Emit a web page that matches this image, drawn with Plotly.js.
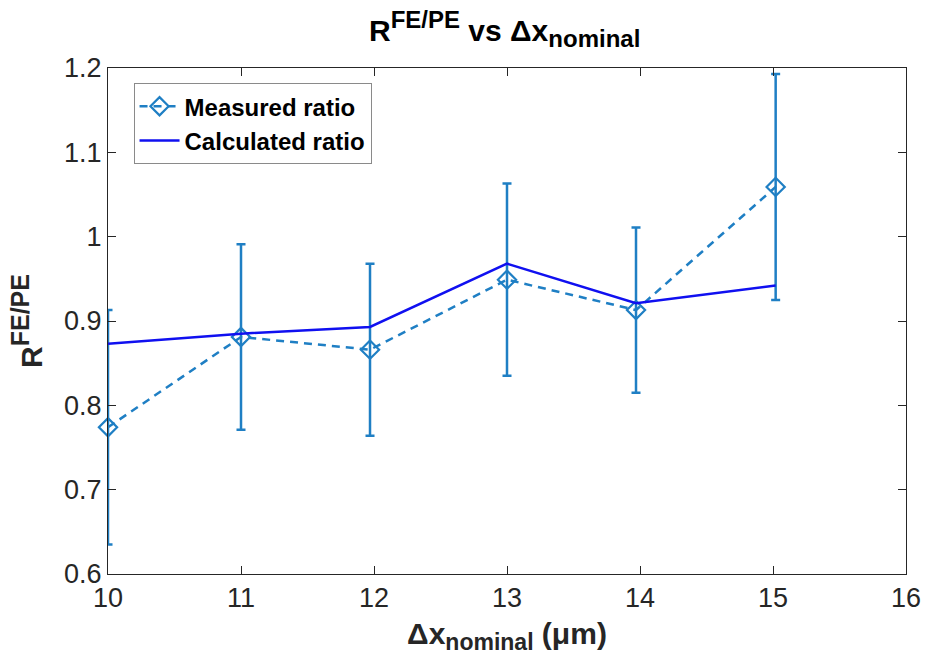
<!DOCTYPE html>
<html>
<head>
<meta charset="utf-8">
<script src="https://cdn.plot.ly/plotly-3.0.1.min.js"></script>
<style>
  html, body { margin: 0; padding: 0; background: #fff; }
  #chart { width: 926px; height: 669px; }
</style>
</head>
<body>
<div id="chart"></div>
<script>
// Nominal spacing (µm) for each sample
const xMeasured = [10, 11, 11.97, 13, 13.97, 15.02];
// Measured FE/PE ratio and its uncertainty
const measuredRatio = [0.774, 0.881, 0.866, 0.949, 0.913, 1.059];
const measuredErr = [0.139, 0.110, 0.102, 0.114, 0.098, 0.134];
// Calculated FE/PE ratio
const calculatedRatio = [0.873, 0.885, 0.893, 0.968, 0.921, 0.942];

const xTicks = [10, 11, 12, 13, 14, 15, 16];
const yTicks = [0.6, 0.7, 0.8, 0.9, 1, 1.1, 1.2];
const yTickText = ['0.6', '0.7', '0.8', '0.9', '1', '1.1', '1.2'];

const FONT = '"Liberation Sans", Arial, Helvetica, sans-serif';
const measuredColor = '#1f7fc4';
const calcColor = '#1010f0';

const traces = [
  {
    x: xMeasured,
    y: measuredRatio,
    name: 'Measured ratio',
    type: 'scatter',
    mode: 'lines+markers',
    cliponaxis: false,
    line: { color: measuredColor, width: 2.5, dash: '8px,6px' },
    marker: { symbol: 'diamond-open', size: 14, color: measuredColor, line: { width: 2.2, color: measuredColor } },
    error_y: { type: 'data', array: measuredErr, visible: true, color: measuredColor, thickness: 2.5, width: 4.5 }
  },
  {
    x: xMeasured,
    y: calculatedRatio,
    name: 'Calculated ratio',
    type: 'scatter',
    mode: 'lines',
    cliponaxis: false,
    line: { color: calcColor, width: 2.5 }
  }
];

const axisCommon = {
  showgrid: false,
  zeroline: false,
  showline: true,
  linecolor: '#262626',
  linewidth: 1,
  mirror: 'ticks',
  ticks: 'inside',
  ticklen: 8,
  tickwidth: 1,
  tickcolor: '#262626',
  tickfont: { family: FONT, size: 27, color: '#262626' }
};

const layout = {
  width: 926,
  height: 669,
  margin: { l: 108, r: 20, t: 68, b: 95 },
  paper_bgcolor: '#ffffff',
  plot_bgcolor: '#ffffff',
  font: { family: FONT, color: '#000' },
  title: {
    text: '<b>R<sup><span style="font-size:24px">FE/PE</span></sup> vs Δx<sub><span style="font-size:24px">nominal</span></sub></b>',
    font: { family: FONT, size: 30, color: '#000' },
    x: 0.545,
    xanchor: 'center',
    y: 0.955,
    yanchor: 'middle'
  },
  xaxis: Object.assign({}, axisCommon, {
    range: [10, 16],
    tickmode: 'array',
    tickvals: xTicks,
    ticktext: xTicks.map(String),
    title: {
      text: '<b>Δx<sub><span style="font-size:23px">nominal</span></sub> (μm)</b>',
      font: { family: FONT, size: 30, color: '#262626' },
      standoff: 10
    }
  }),
  yaxis: Object.assign({}, axisCommon, {
    range: [0.6, 1.2],
    tickmode: 'array',
    tickvals: yTicks,
    ticktext: yTickText,
    title: {
      text: '<b>R<sup><span style="font-size:25px">FE/PE</span></sup></b>',
      font: { family: FONT, size: 30, color: '#262626' },
      standoff: 12
    }
  }),
  showlegend: true,
  legend: {
    x: 0.032,
    y: 0.97,
    xanchor: 'left',
    yanchor: 'top',
    bgcolor: '#ffffff',
    bordercolor: '#8a8a8a',
    borderwidth: 1,
    font: { family: FONT, size: 24, color: '#000', weight: 'bold' },
    tracegroupgap: 0,
    itemwidth: 40
  }
};

Plotly.newPlot('chart', traces, layout, { displayModeBar: false, staticPlot: true });
</script>
</body>
</html>
